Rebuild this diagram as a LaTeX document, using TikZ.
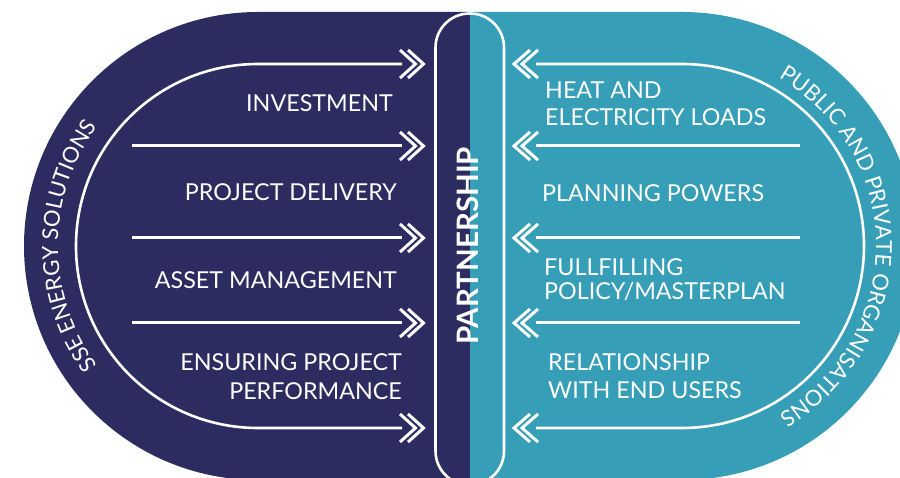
\documentclass[tikz,border=0pt]{standalone}
\usepackage{fontspec}
\setmainfont{Lato}
\usetikzlibrary{decorations.text}
\definecolor{navyc}{RGB}{45,44,97}
\definecolor{tealc}{RGB}{54,158,183}
\begin{document}
\begin{tikzpicture}[x=1pt,y=1pt,
  wline/.style={draw=white,line width=3pt},
  arcline/.style={draw=white,line width=2.6pt},
  chev/.style={draw=white,line width=3pt,line join=miter},
  lbl/.style={text=white,font=\fontsize{23.3}{28}\selectfont,inner sep=0pt},
  bigtxt/.style={text=white,font=\bfseries\fontsize{29.5}{31}\selectfont,inner sep=0pt,rotate=90},
  chevR/.pic={\draw[chev] (-2,14) -- (13.5,0) -- (-2,-14) (6,14) -- (21.5,0) -- (6,-14);},
  chevL/.pic={\draw[chev] (2,14) -- (-14,0) -- (2,-14) (-6,14) -- (-22,0) -- (-6,-14);}
]
\useasboundingbox (0,0) rectangle (900,477);
\begin{scope}
\clip (0,0) rectangle (900,477);
% outer halves
\fill[navyc] (470,465) -- (258,465) arc[start angle=90,end angle=270,radius=234] -- (470,-3) -- cycle;
\fill[tealc] (470,465) -- (682,465) arc[start angle=90,end angle=-90,radius=234] -- (470,-3) -- cycle;
% central pill
\draw[white,line width=2.6pt,rounded corners=34pt] (435.5,-8) rectangle (504,463.5);
\end{scope}

% named coordinates for connectors
\coordinate (L1e) at (402,413);
\coordinate (L1a) at (258,413);
\coordinate (L5e) at (402,49);
\coordinate (R1e) at (536,413);
\coordinate (R1a) at (682,413);
\coordinate (R5e) at (536,49);
\foreach \n/\yy in {2/331,3/239,4/154}{
  \coordinate (L\n s) at (132,\yy);
  \coordinate (L\n e) at (402,\yy);
  \coordinate (R\n s) at (800,\yy);
  \coordinate (R\n e) at (536,\yy);
}

% inner arcs (outer arrows)
\draw[arcline] (L1e) -- (L1a) arc[start angle=90,end angle=270,radius=182] -- (L5e);
\draw[arcline] (R1e) -- (R1a) arc[start angle=90,end angle=-90,radius=182] -- (R5e);
% middle arrows
\foreach \n in {2,3,4}{
  \draw[wline] (L\n s) -- (L\n e);
  \draw[wline] (R\n s) -- (R\n e);
}
% chevrons
\foreach \n in {1,2,3,4,5}{
  \pic at (L\n e) {chevR};
  \pic at (R\n e) {chevL};
}

% left labels
\node[lbl,anchor=base east] (inv) at (393,365.3) {INVESTMENT};
\node[lbl,anchor=base east] (pdel) at (397,276.3) {PROJECT DELIVERY};
\node[lbl,anchor=base east] (amg) at (397,188.3) {ASSET MANAGEMENT};
\node[lbl,anchor=base east] (ens1) at (402,106.7) {ENSURING PROJECT};
\node[lbl,anchor=base east] (ens2) at (402,77.7) {PERFORMANCE};
% right labels
\node[lbl,anchor=base west] (heat1) at (545,378) {HEAT AND};
\node[lbl,anchor=base west] (heat2) at (545,351) {ELECTRICITY LOADS};
\node[lbl,anchor=base west] (plan) at (542,275) {PLANNING POWERS};
\node[lbl,anchor=base west] (ful1) at (544,201.7) {FULLFILLING};
\node[lbl,anchor=base west] (ful2) at (544,177) {POLICY/MASTERPLAN};
\node[lbl,anchor=base west] (rel1) at (548,106.7) {RELATIONSHIP};
\node[lbl,anchor=base west] (rel2) at (548,78.3) {WITH END USERS};

% centre
\node[bigtxt] (part) at (467.5,231) {PARTNERSHIP};

% curved side texts
\path[decorate,decoration={text along path,text align=center,text color=white,
  text={|\fontsize{22}{22}\selectfont|SSE ENERGY SOLUTIONS}}]
  ([shift={(258,231)}]240:200) arc[start angle=240,end angle=120,radius=200];
\path[decorate,decoration={text along path,text align=center,text color=white,
  text={|\fontsize{22}{22}\selectfont|PUBLIC AND PRIVATE ORGANISATIONS}}]
  ([shift={(682,231)}]75:194) arc[start angle=75,end angle=-75,radius=194];
\end{tikzpicture}
\end{document}
